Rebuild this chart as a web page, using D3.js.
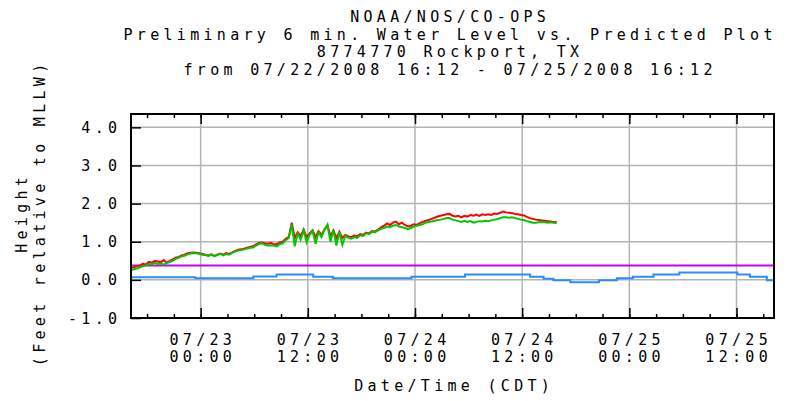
<!DOCTYPE html>
<html>
<head>
<meta charset="utf-8">
<script src="https://cdn.jsdelivr.net/npm/d3@7"></script>
<style>
body { margin: 0; background: #fff; }
#container text { font-family: "DejaVu Sans Mono", monospace; font-size: 15px; letter-spacing: 4.3px; fill: #000; }
</style>
</head>
<body>
<div id="container"></div>
<script>
const titleLines = [
  "NOAA/NOS/CO-OPS",
  "Preliminary 6 min. Water Level vs. Predicted Plot",
  "8774770 Rockport, TX",
  "from 07/22/2008 16:12 - 07/25/2008 16:12"
];
const yTitleLines = ["Height", "(Feet relative to MLLW)"];
const xTitle = "Date/Time (CDT)";

const timeStart = "2008-07-22T16:12";
const timeEnd = "2008-07-25T16:12";
const yTicks = [4.0, 3.0, 2.0, 1.0, 0.0, -1.0];
const yTickLabels = ["4.0", "3.0", "2.0", "1.0", "0.0", "-1.0"];
const majorTicks = ["2008-07-23T00:00", "2008-07-23T12:00", "2008-07-24T00:00", "2008-07-24T12:00", "2008-07-25T00:00", "2008-07-25T12:00"];

// 20 minute samples from timeStart
const obsStep = 20;
const primaryLevel = [
  0.32, 0.33, 0.36, 0.38, 0.42, 0.40, 0.47, 0.45, 0.50, 0.48, 0.46, 0.52, 0.45, 0.50, 0.54, 0.58,
  0.60, 0.64, 0.66, 0.70, 0.71, 0.72, 0.71, 0.70, 0.68, 0.66, 0.64, 0.67, 0.63, 0.66, 0.69, 0.66,
  0.70, 0.68, 0.72, 0.76, 0.79, 0.80, 0.82, 0.84, 0.86, 0.88, 0.93, 0.97, 0.98, 0.96, 0.95, 0.97,
  0.93, 0.94, 0.98, 1.00, 1.08, 1.12, 1.50, 1.10, 1.25, 1.15, 1.32, 1.12, 1.22, 1.30, 1.12, 1.28,
  1.18, 1.32, 1.42, 1.15, 1.30, 1.10, 1.26, 1.10, 1.18, 1.14, 1.12, 1.16, 1.14, 1.20, 1.18, 1.24,
  1.22, 1.28, 1.27, 1.32, 1.38, 1.42, 1.48, 1.44, 1.50, 1.53, 1.46, 1.50, 1.44, 1.40, 1.42, 1.46,
  1.44, 1.49, 1.52, 1.55, 1.57, 1.60, 1.63, 1.66, 1.68, 1.70, 1.72, 1.73, 1.68, 1.66, 1.68, 1.64,
  1.68, 1.66, 1.70, 1.68, 1.71, 1.68, 1.72, 1.70, 1.72, 1.70, 1.74, 1.73, 1.76, 1.79, 1.77, 1.76,
  1.75, 1.73, 1.72, 1.70, 1.69, 1.65, 1.62, 1.60, 1.58, 1.57, 1.56, 1.55, 1.54, 1.53, 1.52, 1.52
];
const backupLevel = [
  0.26, 0.28, 0.30, 0.33, 0.36, 0.38, 0.42, 0.40, 0.45, 0.41, 0.43, 0.40, 0.44, 0.47, 0.50, 0.55,
  0.58, 0.62, 0.63, 0.67, 0.69, 0.70, 0.70, 0.68, 0.66, 0.65, 0.63, 0.66, 0.62, 0.65, 0.68, 0.64,
  0.68, 0.66, 0.71, 0.74, 0.77, 0.78, 0.80, 0.82, 0.84, 0.85, 0.90, 0.94, 0.96, 0.92, 0.90, 0.91,
  0.90, 0.88, 0.94, 0.96, 1.04, 1.10, 1.45, 0.88, 1.22, 1.05, 1.30, 0.98, 1.18, 1.28, 0.95, 1.25,
  1.12, 1.32, 1.45, 1.00, 1.30, 0.90, 1.25, 0.92, 1.15, 1.10, 1.08, 1.12, 1.10, 1.17, 1.15, 1.22,
  1.20, 1.26, 1.25, 1.30, 1.34, 1.36, 1.40, 1.38, 1.42, 1.44, 1.40, 1.38, 1.36, 1.33, 1.36, 1.40,
  1.42, 1.44, 1.46, 1.50, 1.52, 1.53, 1.55, 1.57, 1.58, 1.60, 1.62, 1.62, 1.58, 1.56, 1.54, 1.52,
  1.55, 1.52, 1.54, 1.50, 1.52, 1.54, 1.53, 1.55, 1.54, 1.56, 1.58, 1.59, 1.62, 1.64, 1.64, 1.63,
  1.64, 1.62, 1.60, 1.58, 1.57, 1.54, 1.52, 1.50, 1.50, 1.51, 1.52, 1.51, 1.50, 1.51, 1.50, 1.49
];

const predTimes = [
  "2008-07-22T16:12", "2008-07-22T23:24", "2008-07-23T05:54", "2008-07-23T08:30", "2008-07-23T12:36",
  "2008-07-23T14:48", "2008-07-23T23:36", "2008-07-24T05:36", "2008-07-24T12:54", "2008-07-24T14:24",
  "2008-07-24T15:30", "2008-07-24T17:24", "2008-07-24T20:36", "2008-07-24T22:36", "2008-07-25T00:24",
  "2008-07-25T02:42", "2008-07-25T05:36", "2008-07-25T12:06", "2008-07-25T13:30", "2008-07-25T15:24",
  "2008-07-25T16:12"
];
const predicted = [
  0.07, 0.04, 0.09, 0.14, 0.08, 0.04, 0.08, 0.14, 0.08, 0.03,
  -0.01, -0.06, -0.01, 0.04, 0.08, 0.14, 0.19, 0.14, 0.08, -0.01,
  -0.01
];
const refLevel = 0.38;

const width = 789;
const height = 401;
const plot = { left: 131, right: 774, top: 114, bottom: 318 };
const ls = 4.3;

const parse = d3.timeParse("%Y-%m-%dT%H:%M");
const t0 = parse(timeStart);
const t1 = parse(timeEnd);

const svg = d3.select("#container")
              .append("svg")
              .attr("width", width)
              .attr("height", height);

const x = d3.scaleTime().domain([t0, t1]).range([plot.left, plot.right]);
const y = d3.scaleLinear().domain([-1, 4.35]).range([plot.bottom, plot.top]);

// grid
svg.append("g")
   .selectAll("line")
   .data(yTicks.filter(d => d > -1))
   .enter()
   .append("line")
   .attr("x1", plot.left).attr("x2", plot.right)
   .attr("y1", d => y(d)).attr("y2", d => y(d))
   .attr("stroke", "#b4b4b4").attr("stroke-width", 1.5);
svg.append("g")
   .selectAll("line")
   .data(majorTicks.map(parse))
   .enter()
   .append("line")
   .attr("x1", d => x(d)).attr("x2", d => x(d))
   .attr("y1", plot.top).attr("y2", plot.bottom)
   .attr("stroke", "#b4b4b4").attr("stroke-width", 1.5);

// reference level
svg.append("line")
   .attr("x1", plot.left).attr("x2", plot.right)
   .attr("y1", y(refLevel)).attr("y2", y(refLevel))
   .attr("stroke", "#c400ff").attr("stroke-width", 2);

// predicted
const predData = predTimes.map((t, i) => [parse(t), predicted[i]]);
svg.append("path")
   .datum(predData)
   .attr("fill", "none")
   .attr("stroke", "#2a8cff")
   .attr("stroke-width", 2)
   .attr("d", d3.line().x(d => x(d[0])).y(d => y(d[1])).curve(d3.curveStepAfter));

// observed series
const obsTime = i => d3.timeMinute.offset(t0, i * obsStep);
const line = d3.line().x((d, i) => x(obsTime(i))).y(d => y(d));
svg.append("path")
   .datum(primaryLevel)
   .attr("fill", "none")
   .attr("stroke", "#ff0000")
   .attr("stroke-width", 2)
   .attr("d", line);
svg.append("path")
   .datum(backupLevel)
   .attr("fill", "none")
   .attr("stroke", "#00c800")
   .attr("stroke-width", 2)
   .attr("d", line);

// ticks
const addTicks = (axis, yPos) => {
  svg.append("g")
     .attr("transform", "translate(0," + yPos + ")")
     .call(axis)
     .call(g => g.select(".domain").remove())
     .call(g => g.selectAll("line").attr("stroke", "#000").attr("stroke-width", 1.5));
};
addTicks(d3.axisBottom(x).ticks(d3.timeHour.every(3)).tickSize(-4).tickFormat(""), plot.bottom);
addTicks(d3.axisTop(x).ticks(d3.timeHour.every(3)).tickSize(-4).tickFormat(""), plot.top);
addTicks(d3.axisBottom(x).tickValues(majorTicks.map(parse)).tickSize(-10).tickFormat(""), plot.bottom);
addTicks(d3.axisTop(x).tickValues(majorTicks.map(parse)).tickSize(-10).tickFormat(""), plot.top);
svg.append("g")
   .attr("transform", "translate(" + plot.left + ",0)")
   .call(d3.axisLeft(y).tickValues(yTicks).tickSize(-10).tickFormat(""))
   .call(g => g.select(".domain").remove())
   .call(g => g.selectAll("line").attr("stroke", "#000").attr("stroke-width", 1.5));

// frame
svg.append("rect")
   .attr("x", plot.left).attr("y", plot.top)
   .attr("width", plot.right - plot.left).attr("height", plot.bottom - plot.top)
   .attr("fill", "none").attr("stroke", "#000").attr("stroke-width", 2);

// y tick labels
svg.append("g")
   .selectAll("text")
   .data(yTicks)
   .enter()
   .append("text")
   .attr("x", 117 + ls)
   .attr("y", d => y(d) + 5.5)
   .attr("text-anchor", "end")
   .text((d, i) => yTickLabels[i]);

// x tick labels
const fmtDay = d3.timeFormat("%m/%d");
const fmtHour = d3.timeFormat("%H:%M");
const xLab = svg.append("g")
                .selectAll("g")
                .data(majorTicks.map(parse))
                .enter()
                .append("g");
xLab.append("text")
    .attr("x", d => x(d) + ls / 2)
    .attr("y", 345)
    .attr("text-anchor", "middle")
    .text(d => fmtDay(d));
xLab.append("text")
    .attr("x", d => x(d) + ls / 2)
    .attr("y", 362)
    .attr("text-anchor", "middle")
    .text(d => fmtHour(d));

svg.append("text")
   .attr("x", 452 + ls / 2)
   .attr("y", 391)
   .attr("text-anchor", "middle")
   .text(xTitle);

// titles
svg.append("g")
   .selectAll("text")
   .data(titleLines)
   .enter()
   .append("text")
   .attr("x", 448 + ls / 2)
   .attr("y", (d, i) => 22 + i * 17.5)
   .attr("text-anchor", "middle")
   .text(d => d);

svg.append("g")
   .selectAll("text")
   .data(yTitleLines)
   .enter()
   .append("text")
   .attr("transform", (d, i) => "translate(" + (27 + i * 18) + "," + (215 - ls / 2) + ") rotate(-90)")
   .attr("text-anchor", "middle")
   .text(d => d);
</script>
</body>
</html>
